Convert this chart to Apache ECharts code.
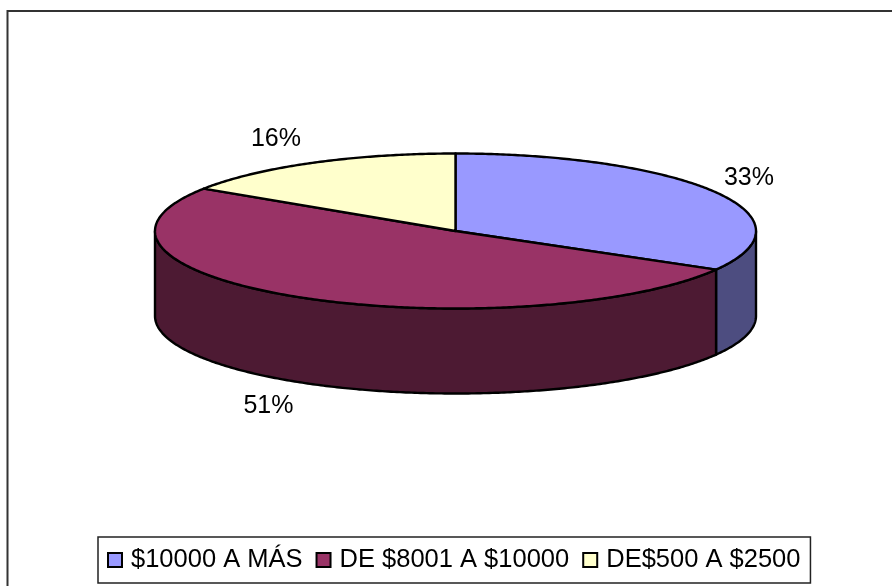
<!DOCTYPE html>
<html>
<head>
<meta charset="utf-8">
<style>html,body{margin:0;padding:0;background:#fff}#c{width:892px;height:586px}</style>
<script src="https://cdn.jsdelivr.net/npm/echarts@6/dist/echarts.min.js"></script>
</head>
<body>
<div id="c"></div>
<script>
var categories = ['$10000 A MÁS', 'DE $8001 A $10000', 'DE$500 A $2500'];
var values = [33.3, 50.9, 15.8];
var topColors = ['#9999FF', '#993366', '#FFFFCC'];
var sideColors = ['#4D4D80', '#4D1A33', '#808066'];

var CX = 455.5, CY = 231, RX = 300.5, RY = 77.5, DEPTH = 85;
var FONT = '"Liberation Sans", Arial, sans-serif';
var LABEL_RX = [339, 358, 377], LABEL_RY = [106, 106, 104];
var total = values.reduce(function (a, b) { return a + b; }, 0);

function pt(a, dy) {
  return [CX + RX * Math.sin(a), CY - RY * Math.cos(a) + (dy || 0)];
}
function arc(a0, a1, dy) {
  var n = Math.max(2, Math.ceil((a1 - a0) / 0.01)), out = [];
  for (var i = 0; i <= n; i++) out.push(pt(a0 + (a1 - a0) * i / n, dy));
  return out;
}

var cum = 0;
var series = categories.map(function (name, i) {
  var start = cum;
  cum += values[i];
  return {
    type: 'custom',
    name: name,
    coordinateSystem: 'none',
    itemStyle: { color: topColors[i] },
    silent: true,
    animation: false,
    data: [[values[i], start, i]],
    renderItem: function (params, api) {
      var v = api.value(0), s = api.value(1), k = api.value(2);
      var a0 = s / total * 2 * Math.PI, a1 = (s + v) / total * 2 * Math.PI;
      var children = [];
      var f0 = Math.max(a0, Math.PI / 2), f1 = Math.min(a1, 3 * Math.PI / 2);
      if (f1 > f0) {
        var topEdge = arc(f0, f1, 0), botEdge = arc(f0, f1, DEPTH).reverse();
        children.push({
          type: 'polygon',
          shape: { points: topEdge.concat(botEdge) },
          style: { fill: sideColors[k], stroke: '#000', lineWidth: 2.4, lineJoin: 'round' }
        });
      }
      children.push({
        type: 'polygon',
        shape: { points: [[CX, CY]].concat(arc(a0, a1, 0)) },
        style: { fill: topColors[k], stroke: '#000', lineWidth: 2.4, lineJoin: 'round' }
      });
      var mid = (a0 + a1) / 2;
      var front = Math.cos(mid) < 0;
      children.push({
        type: 'text',
        style: {
          x: CX + LABEL_RX[k] * Math.sin(mid),
          y: CY - LABEL_RY[k] * Math.cos(mid) + (front ? DEPTH : 0),
          text: Math.round(v / total * 100) + '%',
          fill: '#000',
          font: '25px ' + FONT,
          textAlign: 'center',
          textVerticalAlign: 'middle'
        }
      });
      return { type: 'group', children: children };
    }
  };
});

var chart = echarts.init(document.getElementById('c'), null, { renderer: 'canvas' });
chart.setOption({
  animation: false,
  backgroundColor: '#fff',
  legend: {
    data: categories,
    left: 98,
    top: 537,
    orient: 'horizontal',
    icon: 'rect',
    itemWidth: 14,
    itemHeight: 14,
    itemGap: 13,
    padding: [10, 10, 10, 9],
    backgroundColor: '#fff',
    borderColor: '#222',
    borderWidth: 1.5,
    selectedMode: false,
    itemStyle: { borderColor: '#000', borderWidth: 2 },
    textStyle: { fontFamily: FONT, fontSize: 25.5, color: '#000', padding: [0, 0, 0, 4] }
  },
  graphic: [{
    type: 'polyline',
    silent: true,
    shape: { points: [[7.5, 586], [7.5, 11], [892, 11]] },
    style: { fill: null, stroke: '#333', lineWidth: 2 }
  }],
  series: series
});
</script>
</body>
</html>
